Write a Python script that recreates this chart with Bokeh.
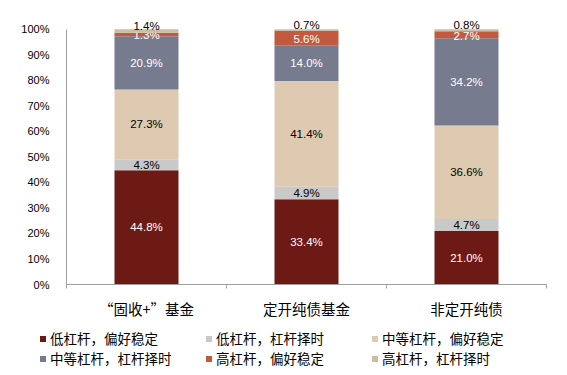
from bokeh.plotting import figure
from bokeh.models import (ColumnDataSource, FixedTicker, Legend, LegendItem,
                          Range1d, PrintfTickFormatter)
from bokeh.embed import file_html
from bokeh.resources import INLINE
from bokeh.core.properties import value

categories = ["“固收+”基金", "定开纯债基金", "非定开纯债"]
series_names = ["低杠杆，偏好稳定", "低杠杆，杠杆择时", "中等杠杆，偏好稳定",
                "中等杠杆，杠杆择时", "高杠杆，偏好稳定", "高杠杆，杠杆择时"]
low_stable = [44.8, 33.4, 21.0]
low_timing = [4.3, 4.9, 4.7]
mid_stable = [27.3, 41.4, 36.6]
mid_timing = [20.9, 14.0, 34.2]
high_stable = [1.3, 5.6, 2.7]
high_timing = [1.4, 0.7, 0.8]
y_ticks = [0, 10, 20, 30, 40, 50, 60, 70, 80, 90, 100]

series_values = [low_stable, low_timing, mid_stable, mid_timing, high_stable, high_timing]
colors = ["#6D1A15", "#C9C9C9", "#DDCAB0", "#777B8E", "#C25A40", "#CBBEA3"]
label_colors = ["white", "black", "black", "white", "white", "black"]
label_offsets = [0, 0, 0, 0, 1, -5]

CJK = "Noto Sans CJK SC"
NUM = "Liberation Sans"

p = figure(width=567, height=321, output_backend="svg", toolbar_location=None,
           x_range=Range1d(0, 3), y_range=Range1d(0, 105),
           min_border_left=66, min_border_right=21, min_border_top=16,
           min_border_bottom=36)
p.outline_line_color = None
p.grid.grid_line_color = None

xs = [i + 0.5 for i in range(len(categories))]
bottoms = [0.0] * len(categories)
for name, vals, col, lcol, off in zip(series_names, series_values, colors,
                                      label_colors, label_offsets):
    tops = [b + v for b, v in zip(bottoms, vals)]
    mids = [(b + t) / 2 for b, t in zip(bottoms, tops)]
    src = ColumnDataSource(dict(x=xs, bottom=bottoms, top=tops, mid=mids,
                                lab=["%.1f%%" % v for v in vals]))
    p.vbar(x="x", bottom="bottom", top="top", width=0.4, source=src,
           fill_color=col, line_color=None)
    p.text(x="x", y="mid", text="lab", source=src, text_align="center",
           text_baseline="middle", text_color=lcol, text_font=value(NUM),
           text_font_size="11.5px", y_offset=off)
    bottoms = tops

# axes
xa = p.xaxis[0]
xa.ticker = FixedTicker(ticks=xs, minor_ticks=[0, 1, 2, 3])
xa.major_label_overrides = {x: c for x, c in zip(xs, categories)}
xa.major_tick_line_color = None
xa.minor_tick_line_color = "#A0A0A0"
xa.minor_tick_out = 4
xa.minor_tick_in = 0
xa.axis_line_color = "#A0A0A0"
xa.major_label_text_font = CJK
xa.major_label_text_font_size = "14.5px"
xa.major_label_text_color = "black"
xa.major_label_standoff = 7

ya = p.yaxis[0]
ya.ticker = FixedTicker(ticks=y_ticks)
ya.formatter = PrintfTickFormatter(format="%d%%")
ya.bounds = (0, 100)
ya.major_tick_line_color = None
ya.minor_tick_line_color = None
ya.axis_line_color = "#A0A0A0"
ya.major_label_text_font = NUM
ya.major_label_text_font_size = "11px"
ya.major_label_text_color = "black"
ya.major_label_standoff = 11

# legend panel (separate root so its frame is not aligned with the chart's)
lf = figure(width=567, height=54, output_backend="svg", toolbar_location=None,
            x_range=Range1d(0, 1), y_range=Range1d(0, 1),
            min_border=0, x_axis_location=None, y_axis_location=None)
lf.outline_line_color = None
lf.grid.grid_line_color = None
items = []
for name, col in zip(series_names, colors):
    r = lf.scatter(x=[-1], y=[-1], marker="square", size=6, fill_color=col,
                   line_color=None)
    items.append(LegendItem(label=name, renderers=[r]))

legend = Legend(items=items, location=(35, 7), ncols=3, orientation="horizontal",
                glyph_width=15, glyph_height=15, label_standoff=0,
                label_height=16, label_width=151, spacing=0, padding=0, margin=0,
                border_line_color=None, background_fill_alpha=0,
                label_text_font=CJK, label_text_font_size="13.5px",
                label_text_color="black")
lf.add_layout(legend, "center")

open("out.html", "w").write(file_html([p, lf], INLINE))
